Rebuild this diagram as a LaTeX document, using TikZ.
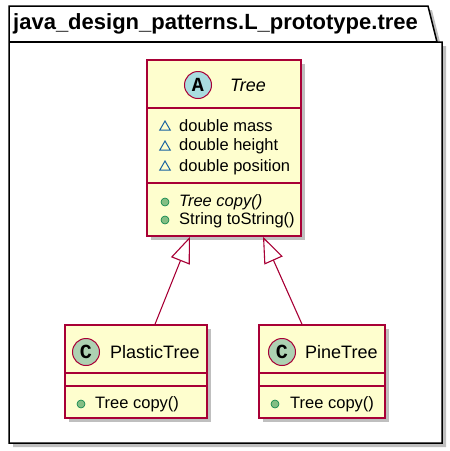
\documentclass[tikz,border=0pt]{standalone}
\usepackage{fontspec}
\setmainfont{Liberation Sans}
\newfontfamily\glyphfont{Liberation Mono}
\usetikzlibrary{arrows.meta,shadows,shapes.geometric}

\definecolor{umlfill}{HTML}{FEFECE}
\definecolor{umlborder}{HTML}{A80036}
\definecolor{abstractbg}{HTML}{A9DCDF}
\definecolor{classbg}{HTML}{ADD1B2}
\definecolor{pkgblue}{HTML}{1963A0}
\definecolor{pubfill}{HTML}{84BE84}
\definecolor{pubborder}{HTML}{038048}

\tikzset{
  umlshadow/.style={drop shadow={shadow xshift=4pt, shadow yshift=-4pt, opacity=0.25, fill=black}},
  classbox/.style={draw=umlborder, fill=umlfill, line width=1.5pt, inner sep=0pt, umlshadow},
  compart/.style={draw=umlborder, line width=1.5pt},
  stereo/.style={circle, draw=umlborder, fill=#1, line width=1pt, minimum size=27pt, inner sep=0pt,
    font=\glyphfont\bfseries\fontsize{20}{20}\selectfont},
  member/.style={anchor=west, inner sep=0pt, font=\fontsize{16.5}{18}\selectfont},
  classname/.style={anchor=west, inner sep=0pt, font=\fontsize{18}{20}\selectfont},
  pkgicon/.style={regular polygon, regular polygon sides=3, draw=pkgblue, line width=1pt, minimum size=12pt, inner sep=0pt},
  pubicon/.style={circle, fill=pubfill, draw=pubborder, line width=0.6pt, minimum size=8pt, inner sep=0pt},
  extends/.style={draw=umlborder, line width=1.1pt, -{Triangle[open, length=26pt, width=20pt]}},
}

\begin{document}
\begin{tikzpicture}[x=1pt, y=-1pt]
\useasboundingbox (0,0) rectangle (450,451);

% package frame
\draw [line width=1.5pt, fill=white, umlshadow] (9,6) -- (428,6) -- (437,42) -- (442,42) -- (442,443) -- (9,443) -- cycle;
\draw [line width=1.5pt] (9,42) -- (437,42);
\node [anchor=west, inner sep=0pt, font=\bfseries\fontsize{22}{24}\selectfont] (pkgname) at (13,24) {java\_design\_patterns.L\_prototype.tree};

% abstract class Tree
\node [classbox, minimum width=154pt, minimum height=176pt] (tree) at (224,148) {};
\draw [compart] (147,108) -- (301,108);
\draw [compart] (147,183) -- (301,183);
\node [stereo=abstractbg] (treeA) at (198,85) {A};
\node [classname, font=\itshape\fontsize{18}{20}\selectfont] (treename) at (230,85) {Tree};

\node [pkgicon] (massvis) at (165,127) {};
\node [pkgicon] (heightvis) at (165,147) {};
\node [pkgicon] (posvis) at (165,167) {};
\node [member] (mass) at (179,126) {double mass};
\node [member] (height) at (179,146) {double height};
\node [member] (position) at (179,167) {double position};

\node [pubicon] (copyvis) at (165,202) {};
\node [pubicon] (tostrvis) at (165,220) {};
\node [member, font=\itshape\fontsize{16.5}{18}\selectfont] (copy) at (179,202) {Tree copy()};
\node [member] (tostr) at (179,220) {String toString()};

% class PlasticTree
\node [classbox, minimum width=142pt, minimum height=93pt] (plastic) at (136,371.5) {};
\draw [compart] (65,373) -- (207,373);
\draw [compart] (65,386) -- (207,386);
\node [stereo=classbg] (plasticC) at (86,352) {C};
\node [classname] (plasticname) at (110,352) {PlasticTree};
\node [pubicon] (plasticvis) at (81,404) {};
\node [member] (plasticcopy) at (95,404) {Tree copy()};

% class PineTree
\node [classbox, minimum width=126pt, minimum height=93pt] (pine) at (322,371.5) {};
\draw [compart] (259,373) -- (385,373);
\draw [compart] (259,386) -- (385,386);
\node [stereo=classbg] (pineC) at (282,352) {C};
\node [classname] (pinename) at (305,352) {PineTree};
\node [pubicon] (pinevis) at (275,404) {};
\node [member] (pinecopy) at (290,404) {Tree copy()};

% generalisation
\draw [extends] ([xshift=19pt]plastic.north) -- ([xshift=-34pt]tree.south);
\draw [extends] ([xshift=-20pt]pine.north) -- ([xshift=39pt]tree.south);

\end{tikzpicture}
\end{document}
